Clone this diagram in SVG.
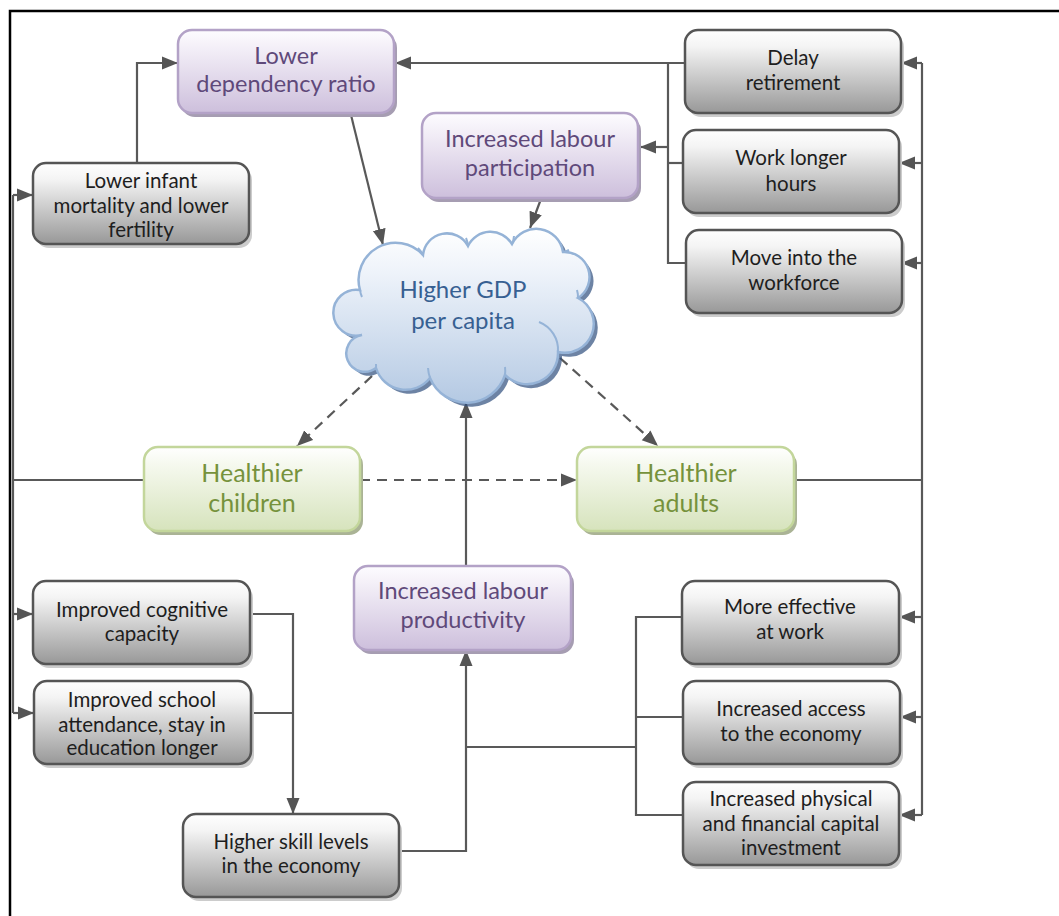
<svg xmlns="http://www.w3.org/2000/svg" width="1059" height="916" viewBox="0 0 1059 916">
<defs>
<linearGradient id="gGray" x1="0" y1="0" x2="0" y2="1">
<stop offset="0" stop-color="#ffffff"/><stop offset="0.2" stop-color="#f4f4f4"/><stop offset="1" stop-color="#989898"/>
</linearGradient>
<linearGradient id="gPurple" x1="0" y1="0" x2="0" y2="1">
<stop offset="0" stop-color="#fdfcff"/><stop offset="0.2" stop-color="#f4f0f8"/><stop offset="1" stop-color="#cdbfdc"/>
</linearGradient>
<linearGradient id="gGreen" x1="0" y1="0" x2="0" y2="1">
<stop offset="0" stop-color="#ffffff"/><stop offset="0.2" stop-color="#f6f9ef"/><stop offset="1" stop-color="#d6e3bc"/>
</linearGradient>
<linearGradient id="gCloud" x1="0" y1="0" x2="0" y2="1">
<stop offset="0" stop-color="#ffffff"/><stop offset="0.25" stop-color="#eef3fa"/><stop offset="1" stop-color="#b4c9e3"/>
</linearGradient>
<marker id="arr" markerUnits="userSpaceOnUse" markerWidth="17" markerHeight="14" refX="16" refY="7" orient="auto">
<path d="M0,0.5 L16,7 L0,13.5 z" fill="#555555"/>
</marker>
<style>
.gray{fill:url(#gGray);stroke:#555555;stroke-width:2.5}
.gsh{fill:#cccccc}
.pur{fill:url(#gPurple);stroke:#b3a2c7;stroke-width:2.5}
.psh{fill:#a69db2}
.grn{fill:url(#gGreen);stroke:#c3d69b;stroke-width:2.5}
.nsh{fill:#aab395}
.tg{font-family:Lato,"Liberation Sans",sans-serif;font-size:20.5px;fill:#1e1e1e;text-anchor:middle}
.tp{font-family:Lato,"Liberation Sans",sans-serif;font-size:23.5px;fill:#5f497a;text-anchor:middle}
.tn{font-family:Lato,"Liberation Sans",sans-serif;font-size:25px;fill:#76923c;text-anchor:middle}
.tc{font-family:Lato,"Liberation Sans",sans-serif;font-size:24px;fill:#376092;text-anchor:middle}
.ln{fill:none;stroke:#595959;stroke-width:2.2}
.da{fill:none;stroke:#595959;stroke-width:2.2;stroke-dasharray:10,7}
</style>
</defs>
<rect width="1059" height="916" fill="#ffffff"/>
<path d="M10,916 L10,11 L1059,11" fill="none" stroke="#000000" stroke-width="2.5"/>

<g id="connectors">
<polyline class="ln" points="13,713 13,195"/>
<polyline class="ln" points="13,195 33,195" marker-end="url(#arr)"/>
<polyline class="ln" points="13,614 33,614" marker-end="url(#arr)"/>
<polyline class="ln" points="13,713 34,713" marker-end="url(#arr)"/>
<polyline class="ln" points="144,480 13,480"/>
<polyline class="ln" points="137,163 137,63 178,63" marker-end="url(#arr)"/>
<polyline class="ln" points="685,63 395,63" marker-end="url(#arr)"/>
<polyline class="ln" points="668,63 668,263 686,263"/>
<polyline class="ln" points="668,163 683,163"/>
<polyline class="ln" points="668,147 640,147" marker-end="url(#arr)"/>
<polyline class="ln" points="922,63 922,815"/>
<polyline class="ln" points="922,63 901,63" marker-end="url(#arr)"/>
<polyline class="ln" points="922,163 899,163" marker-end="url(#arr)"/>
<polyline class="ln" points="922,263 901,263" marker-end="url(#arr)"/>
<polyline class="ln" points="922,617 899,617" marker-end="url(#arr)"/>
<polyline class="ln" points="922,717 900,717" marker-end="url(#arr)"/>
<polyline class="ln" points="922,815 899,815" marker-end="url(#arr)"/>
<polyline class="ln" points="795,480 922,480"/>
<polyline class="ln" points="351,115 383,245" marker-end="url(#arr)"/>
<polyline class="ln" points="541,199 530,228" marker-end="url(#arr)"/>
<polyline class="da" points="372,376 297,446" marker-end="url(#arr)"/>
<polyline class="da" points="560,358 658,446" marker-end="url(#arr)"/>
<polyline class="da" points="360,480 577,480" marker-end="url(#arr)"/>
<polyline class="ln" points="466,566 466,402" marker-end="url(#arr)"/>
<polyline class="ln" points="399,851 466,851 466,650" marker-end="url(#arr)"/>
<polyline class="ln" points="636,747 466,747"/>
<polyline class="ln" points="682,617 636,617 636,815 683,815"/>
<polyline class="ln" points="636,717 683,717"/>
<polyline class="ln" points="251,614 293,614 293,814" marker-end="url(#arr)"/>
<polyline class="ln" points="251,713 293,713"/>
</g>

<g id="cloud">
<path transform="translate(4,4)" fill="#2f4e7e" opacity="0.7" d="M362,335 A23,23 0 1 1 360,290 A37,37 0 0 1 423,255 A24,24 0 0 1 468,246 A25,25 0 0 1 512,244 A27,27 0 0 1 563,252 A25,25 0 0 1 578,298 A29,29 0 0 1 558,352 A31,31 0 0 1 505,375 A40,40 0 0 1 430,378 A31,31 0 0 1 376,368 A18.5,18.5 0 1 1 362,335 Z"/>
<path fill="url(#gCloud)" stroke="#95b3d7" stroke-width="2.5" d="M362,335 A23,23 0 1 1 360,290 A37,37 0 0 1 423,255 A24,24 0 0 1 468,246 A25,25 0 0 1 512,244 A27,27 0 0 1 563,252 A25,25 0 0 1 578,298 A29,29 0 0 1 558,352 A31,31 0 0 1 505,375 A40,40 0 0 1 430,378 A31,31 0 0 1 376,368 A18.5,18.5 0 1 1 362,335 Z"/>
<g fill="none" stroke="#95b3d7" stroke-width="2">
<path d="M360,290 A23,23 0 0 0 362,297"/>
<path d="M423,255 A30,30 0 0 0 418,248"/>
<path d="M468,246 A25,25 0 0 0 466,238"/>
<path d="M512,244 A25,25 0 0 0 514,236"/>
<path d="M563,252 A25,25 0 0 0 569,250"/>
<path d="M578,298 A25,25 0 0 0 577,290"/>
<path d="M539,322 A30,30 0 0 1 558,352"/>
<path d="M505,375 A30,30 0 0 0 505,367"/>
<path d="M430,378 A40,40 0 0 1 428,368"/>
<path d="M376,368 A30,30 0 0 0 376,364"/>
</g>
<text class="tc" x="463" y="298">Higher GDP</text>
<text class="tc" x="463" y="329">per capita</text>
</g>

<g id="lower-dependency-ratio">
<rect class="psh" x="181" y="34" width="216" height="83" rx="14"/>
<rect class="pur" x="178" y="30" width="216" height="83" rx="14"/>
<text class="tp" x="286" y="64">Lower</text>
<text class="tp" x="286" y="92">dependency ratio</text>
</g>

<g id="lower-infant-mortality">
<rect class="gsh" x="36" y="167" width="216" height="81" rx="13"/>
<rect class="gray" x="33" y="163" width="216" height="81" rx="13"/>
<text class="tg" x="141" y="188">Lower infant</text>
<text class="tg" x="141" y="213">mortality and lower</text>
<text class="tg" x="141" y="237">fertility</text>
</g>

<g id="increased-labour-participation">
<rect class="psh" x="425" y="117" width="216" height="85" rx="14"/>
<rect class="pur" x="422" y="113" width="216" height="85" rx="14"/>
<text class="tp" x="530" y="147">Increased labour</text>
<text class="tp" x="530" y="176">participation</text>
</g>

<g id="delay-retirement">
<rect class="gsh" x="688" y="34" width="216" height="83" rx="13"/>
<rect class="gray" x="685" y="30" width="216" height="83" rx="13"/>
<text class="tg" x="793" y="65">Delay</text>
<text class="tg" x="793" y="90">retirement</text>
</g>

<g id="work-longer-hours">
<rect class="gsh" x="686" y="134" width="216" height="83" rx="13"/>
<rect class="gray" x="683" y="130" width="216" height="83" rx="13"/>
<text class="tg" x="791" y="165">Work longer</text>
<text class="tg" x="791" y="191">hours</text>
</g>

<g id="move-into-workforce">
<rect class="gsh" x="689" y="234" width="216" height="83" rx="13"/>
<rect class="gray" x="686" y="230" width="216" height="83" rx="13"/>
<text class="tg" x="794" y="265">Move into the</text>
<text class="tg" x="794" y="290">workforce</text>
</g>

<g id="healthier-children">
<rect class="nsh" x="147" y="451" width="216" height="84" rx="14"/>
<rect class="grn" x="144" y="447" width="216" height="84" rx="14"/>
<text class="tn" x="252" y="482">Healthier</text>
<text class="tn" x="252" y="512">children</text>
</g>

<g id="healthier-adults">
<rect class="nsh" x="580" y="451" width="217" height="84" rx="14"/>
<rect class="grn" x="577" y="447" width="217" height="84" rx="14"/>
<text class="tn" x="686" y="482">Healthier</text>
<text class="tn" x="686" y="512">adults</text>
</g>

<g id="increased-labour-productivity">
<rect class="psh" x="357" y="570" width="217" height="84" rx="14"/>
<rect class="pur" x="354" y="566" width="217" height="84" rx="14"/>
<text class="tp" x="463" y="599">Increased labour</text>
<text class="tp" x="463" y="628">productivity</text>
</g>

<g id="improved-cognitive-capacity">
<rect class="gsh" x="36" y="585" width="217" height="83" rx="13"/>
<rect class="gray" x="33" y="581" width="217" height="83" rx="13"/>
<text class="tg" x="142" y="617">Improved cognitive</text>
<text class="tg" x="142" y="641">capacity</text>
</g>

<g id="improved-school-attendance">
<rect class="gsh" x="37" y="685" width="217" height="83" rx="13"/>
<rect class="gray" x="34" y="681" width="217" height="83" rx="13"/>
<text class="tg" x="142" y="707">Improved school</text>
<text class="tg" x="142" y="732">attendance, stay in</text>
<text class="tg" x="142" y="755">education longer</text>
</g>

<g id="higher-skill-levels">
<rect class="gsh" x="186" y="818" width="216" height="83" rx="13"/>
<rect class="gray" x="183" y="814" width="216" height="83" rx="13"/>
<text class="tg" x="291" y="849">Higher skill levels</text>
<text class="tg" x="291" y="873">in the economy</text>
</g>

<g id="more-effective-at-work">
<rect class="gsh" x="685" y="585" width="217" height="83" rx="13"/>
<rect class="gray" x="682" y="581" width="217" height="83" rx="13"/>
<text class="tg" x="790" y="614">More effective</text>
<text class="tg" x="790" y="639">at work</text>
</g>

<g id="increased-access">
<rect class="gsh" x="686" y="685" width="217" height="83" rx="13"/>
<rect class="gray" x="683" y="681" width="217" height="83" rx="13"/>
<text class="tg" x="791" y="716">Increased access</text>
<text class="tg" x="791" y="741">to the economy</text>
</g>

<g id="increased-physical-capital">
<rect class="gsh" x="686" y="786" width="216" height="83" rx="13"/>
<rect class="gray" x="683" y="782" width="216" height="83" rx="13"/>
<text class="tg" x="791" y="806">Increased physical</text>
<text class="tg" x="791" y="831">and financial capital</text>
<text class="tg" x="791" y="855">investment</text>
</g>
</svg>
